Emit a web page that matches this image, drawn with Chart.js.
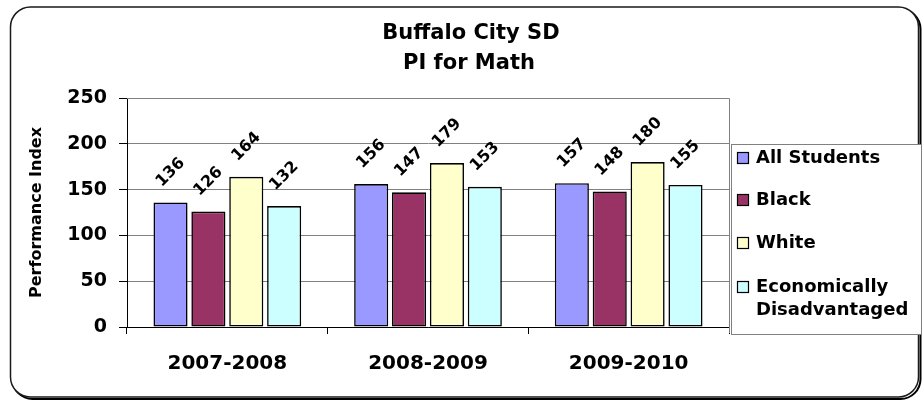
<!DOCTYPE html>
<html>
<head>
<meta charset="utf-8">
<script src="https://cdn.jsdelivr.net/npm/chart.js"></script>
<style>
  html, body { margin: 0; padding: 0; background: #fff; }
  #wrap { position: relative; width: 922px; height: 402px; }
</style>
</head>
<body>
<div id="wrap"><canvas id="chart" width="922" height="402"></canvas></div>
<script>
// Buffalo City SD - PI for Math
const years = ['2007-2008', '2008-2009', '2009-2010']
const allStudents = [136, 156, 157]
const black = [126, 147, 148]
const white = [164, 179, 180]
const econDisadv = [132, 153, 155]
const yTicks = [0, 50, 100, 150, 200, 250]

const FONT = "'DejaVu Sans', sans-serif"

// рамка, заголовок, легенда и подписи значений
const decor = {
  id: 'decor',
  beforeDraw(chart) {
    const ctx = chart.ctx
    ctx.save()
    ctx.fillStyle = '#fff'
    ctx.fillRect(0, 0, chart.width, chart.height)
    const rr = (x, y, w, h, r) => {
      ctx.beginPath()
      ctx.moveTo(x + r, y)
      ctx.lineTo(x + w - r, y)
      ctx.arcTo(x + w, y, x + w, y + r, r)
      ctx.lineTo(x + w, y + h - r)
      ctx.arcTo(x + w, y + h, x + w - r, y + h, r)
      ctx.lineTo(x + r, y + h)
      ctx.arcTo(x, y + h, x, y + h - r, r)
      ctx.lineTo(x, y + r)
      ctx.arcTo(x, y, x + r, y, r)
      ctx.closePath()
    }
    // тень
    ctx.strokeStyle = '#000'
    ctx.lineWidth = 2
    rr(12.5, 9, 908, 390, 20)
    ctx.stroke()
    ctx.fillStyle = '#fff'
    rr(10.5, 7, 908, 390, 20)
    ctx.fill()
    ctx.strokeStyle = '#1a1a1a'
    ctx.lineWidth = 1.5
    ctx.stroke()
    ctx.restore()
  },
  afterDraw(chart) {
    const ctx = chart.ctx
    const area = chart.chartArea
    ctx.save()
    // верх и правая граница области построения
    ctx.strokeStyle = '#808080'
    ctx.lineWidth = 1
    ctx.beginPath()
    ctx.moveTo(area.left, Math.round(area.top) + 0.5)
    ctx.lineTo(Math.round(area.right) + 0.5, Math.round(area.top) + 0.5)
    ctx.lineTo(Math.round(area.right) + 0.5, area.bottom + 6)
    ctx.stroke()

    // заголовок
    ctx.fillStyle = '#000'
    ctx.textAlign = 'center'
    ctx.textBaseline = 'middle'
    ctx.font = 'bold 21px ' + FONT
    ctx.fillText('Buffalo City SD', 471, 34)
    ctx.fillText('PI for Math', 469, 64)

    // легенда
    const lx = 731.5, ly = 144.5, lw = 190, lh = 190
    ctx.fillStyle = '#fff'
    ctx.fillRect(lx, ly, lw, lh)
    ctx.strokeStyle = '#808080'
    ctx.strokeRect(lx, ly, lw, lh)
    const rowsY = [158, 200, 243, 287]
    ctx.font = 'bold 18px ' + FONT
    ctx.textAlign = 'left'
    chart.data.datasets.forEach((ds, i) => {
      const cy = rowsY[i]
      ctx.fillStyle = ds.backgroundColor
      ctx.fillRect(737.5, cy - 5.5, 11, 11)
      ctx.strokeStyle = '#000'
      ctx.lineWidth = 1.2
      ctx.strokeRect(737.5, cy - 5.5, 11, 11)
      ctx.fillStyle = '#000'
      const lines = ds.legendLines || [ds.label]
      lines.forEach((t, j) => ctx.fillText(t, 756, cy + j * 23))
    })

    // подписи значений под углом
    ctx.font = 'bold 16px ' + FONT
    ctx.textAlign = 'center'
    ctx.textBaseline = 'middle'
    chart.data.datasets.forEach((ds, i) => {
      chart.getDatasetMeta(i).data.forEach((el, j) => {
        ctx.save()
        ctx.translate(el.x, el.y - 30)
        ctx.rotate(-Math.PI / 4)
        ctx.fillStyle = '#000'
        ctx.fillText(String(ds.data[j]), 0, 0)
        ctx.restore()
      })
    })
    ctx.restore()
  }
}

new Chart(document.getElementById('chart'), {
  type: 'bar',
  data: {
    labels: years,
    datasets: [
      { label: 'All Students', data: allStudents, backgroundColor: '#9999FF' },
      { label: 'Black', data: black, backgroundColor: '#993366' },
      { label: 'White', data: white, backgroundColor: '#FFFFCC' },
      { label: 'Economically Disadvantaged', legendLines: ['Economically', 'Disadvantaged'], data: econDisadv, backgroundColor: '#CCFFFF' }
    ].map(ds => Object.assign(ds, {
      borderColor: '#000',
      borderWidth: 1.6,
      borderSkipped: false,
      categoryPercentage: 0.755,
      barPercentage: 0.9
    }))
  },
  options: {
    responsive: false,
    animation: false,
    layout: { padding: { left: 23, right: 193, top: 98, bottom: 0 } },
    plugins: {
      legend: { display: false },
      title: { display: false },
      tooltip: { enabled: false }
    },
    scales: {
      x: {
        grid: { display: true, drawOnChartArea: false, offset: true, tickLength: 7, color: '#000' },
        border: { color: '#000', width: 1 },
        ticks: { color: '#000', font: { family: FONT, size: 20, weight: 'bold' }, padding: 18 },
        afterFit(scale) { scale.height = 75 }
      },
      y: {
        min: 0,
        max: 250,
        afterBuildTicks(scale) { scale.ticks = yTicks.map(v => ({ value: v })) },
        grid: { color: '#808080', tickColor: '#000', tickLength: 8 },
        border: { color: '#000', width: 1 },
        ticks: { color: '#000', font: { family: FONT, size: 19, weight: 'bold' }, padding: 12 },
        title: {
          display: true,
          text: 'Performance Index',
          color: '#000',
          font: { family: FONT, size: 16, weight: 'bold' }
        },
        afterFit(scale) { scale.width = 104 }
      }
    }
  },
  plugins: [decor]
})
</script>
</body>
</html>
